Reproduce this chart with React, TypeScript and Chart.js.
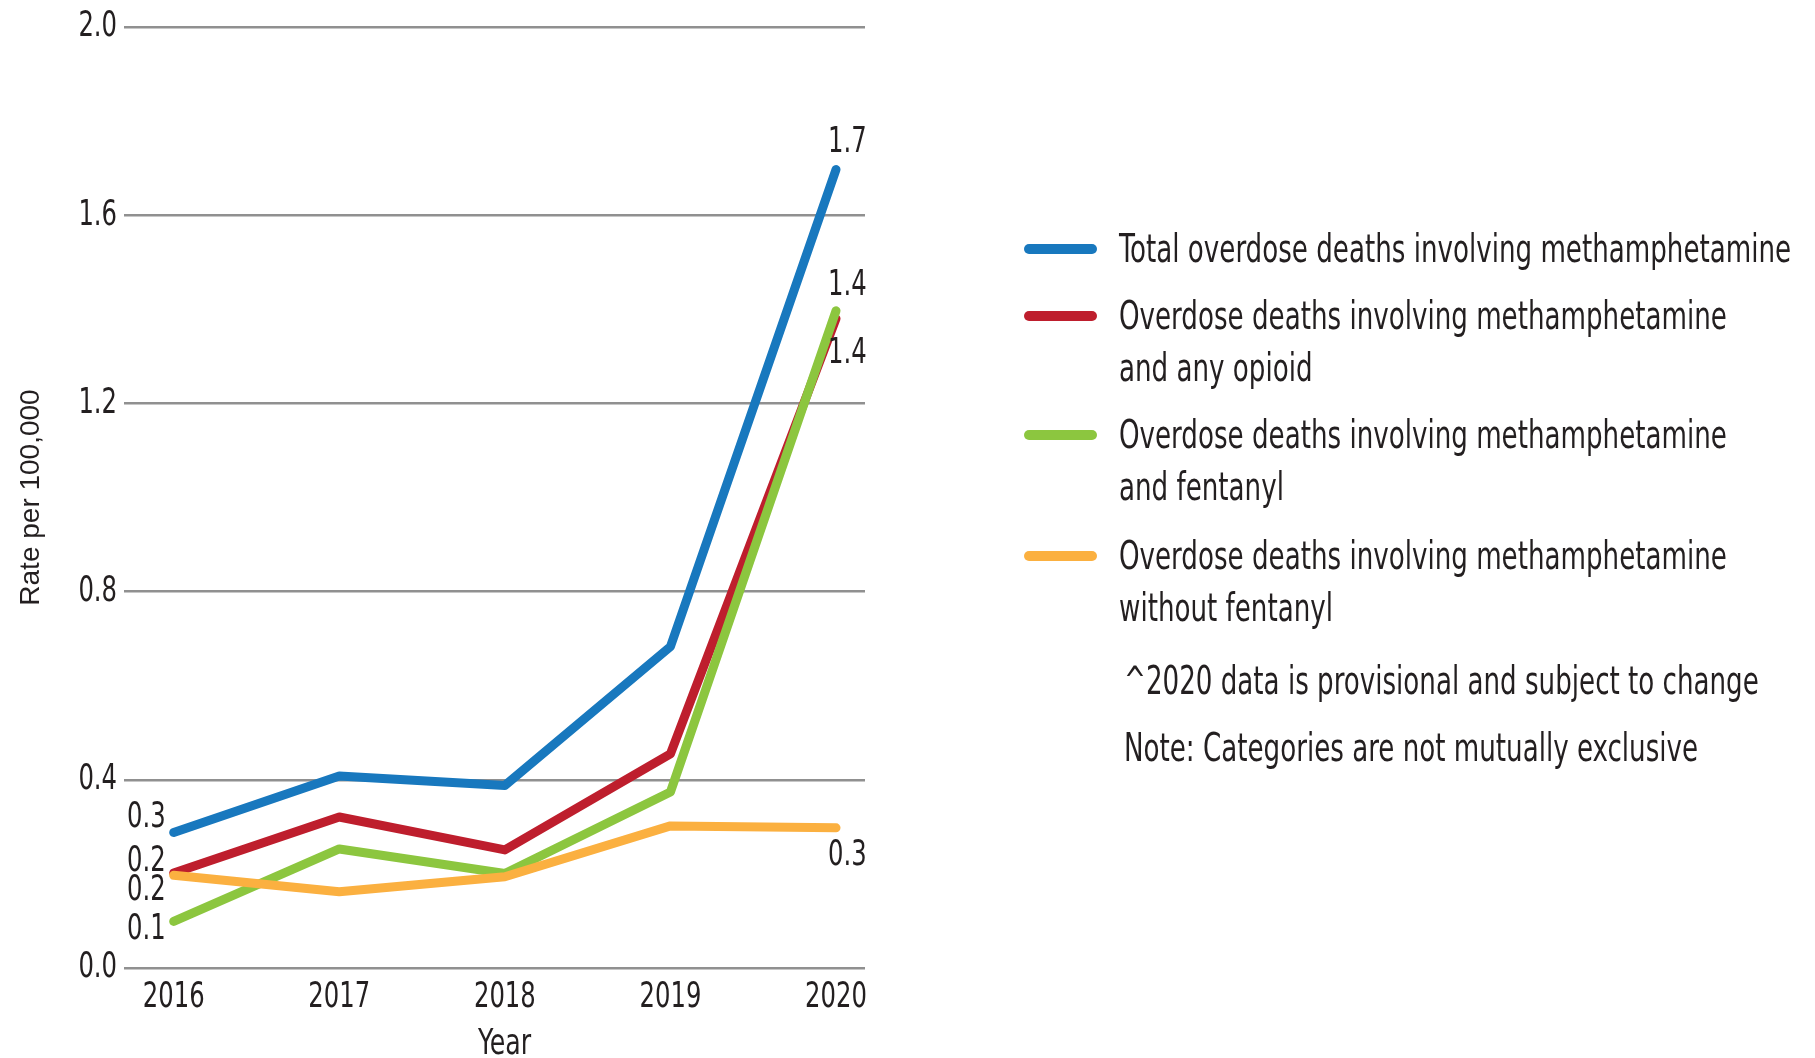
import React, { useEffect, useRef } from "react";
import { Chart, registerables } from "chart.js";

Chart.register(...registerables);

const years = [2016, 2017, 2018, 2019, 2020];
const yearLabels = ["2016", "2017", "2018", "2019", "2020"];

const seriesNames = [
  "Total overdose deaths involving methamphetamine",
  "Overdose deaths involving methamphetamine\nand any opioid",
  "Overdose deaths involving methamphetamine\nand fentanyl",
  "Overdose deaths involving methamphetamine\nwithout fentanyl",
];

const totalMeth = [0.288, 0.408, 0.388, 0.683, 1.697];
const methOpioid = [0.202, 0.321, 0.251, 0.455, 1.38];
const methFentanyl = [0.099, 0.253, 0.201, 0.374, 1.397];
const methNoFentanyl = [0.197, 0.162, 0.194, 0.302, 0.298];

const startLabels = ["0.3", "0.2", "0.1", "0.2"];
const endLabels = ["1.7", "1.4", "1.4", "0.3"];

const notes = [
  "^2020 data is provisional and subject to change",
  "Note: Categories are not mutually exclusive",
];

const yTitle = "Rate per 100,000";
const xTitle = "Year";

const colors = ["#1878BE", "#BE1E2D", "#8CC63F", "#FBB040"];
const FONT = "'DejaVu Sans Condensed', 'Liberation Sans Narrow', sans-serif";
const TEXT = "#231F20";
const SX = 0.75; // horizontal condensing of the narrow display face

// label offsets (style only)
const startOffsets = [
  { dx: -8, dy: -15 },
  { dx: -8, dy: -11 },
  { dx: -8, dy: 8 },
  { dx: -8, dy: 15 },
];
const endOffsets = [
  { dx: -8, dy: -27 },
  { dx: -8, dy: 35 },
  { dx: -8, dy: -25 },
  { dx: -8, dy: 28 },
];

function drawText(ctx: CanvasRenderingContext2D, text: string, x: number, y: number, align: CanvasTextAlign, size: number, sx: number) {
  ctx.save();
  ctx.font = `${size}px ${FONT}`;
  ctx.fillStyle = TEXT;
  ctx.textBaseline = "middle";
  ctx.textAlign = align;
  ctx.translate(x, y);
  ctx.scale(sx, 1);
  ctx.fillText(text, 0, 0);
  ctx.restore();
}

const textPlugin = {
  id: "condensedText",
  afterDraw(chart: any) {
    const ctx = chart.ctx;
    const area = chart.chartArea;
    const xs = chart.scales.x;
    const ys = chart.scales.y;
    xs.ticks.forEach((t: any) => {
      drawText(ctx, String(t.label), xs.getPixelForValue(t.value), area.bottom + 30, "center", 36, SX);
    });
    ys.ticks.forEach((t: any) => {
      drawText(ctx, String(t.label), area.left - 7, ys.getPixelForValue(t.value), "right", 36, SX);
    });
    drawText(ctx, xTitle, (area.left + area.right) / 2 + 10, area.bottom + 77, "center", 36, 0.78);
    chart.data.datasets.forEach((_ds: any, i: number) => {
      const meta = chart.getDatasetMeta(i);
      const first = meta.data[0];
      const last = meta.data[meta.data.length - 1];
      drawText(ctx, startLabels[i], first.x + startOffsets[i].dx, first.y + startOffsets[i].dy, "right", 36, SX);
      drawText(ctx, endLabels[i], last.x + endOffsets[i].dx, last.y + endOffsets[i].dy, "left", 36, SX);
    });
  },
};

export default function App() {
  const ref = useRef<HTMLCanvasElement>(null);

  useEffect(() => {
    if (!ref.current) return;
    const seriesValues = [totalMeth, methOpioid, methFentanyl, methNoFentanyl];
    const chart = new Chart(ref.current, {
      type: "line",
      data: {
        datasets: seriesValues.map((vals, i) => ({
          label: seriesNames[i],
          data: years.map((yr, j) => ({ x: yr, y: vals[j] })),
          borderColor: colors[i],
          backgroundColor: colors[i],
          borderWidth: 9,
          pointRadius: 0,
          borderCapStyle: "round",
          borderJoinStyle: "round",
          tension: 0,
          order: 4 - i,
        })),
      },
      options: {
        responsive: false,
        animation: false,
        layout: { padding: { left: 0, top: 27, right: 950, bottom: 0 } },
        plugins: {
          legend: { display: false },
          tooltip: { enabled: false },
        },
        scales: {
          x: {
            type: "linear",
            min: 2015.7,
            max: 2020.175,
            afterBuildTicks: (scale: any) => {
              scale.ticks = years.map((v) => ({ value: v }));
            },
            afterFit: (scale: any) => {
              scale.height = 90;
            },
            grid: { display: false, drawTicks: false },
            border: { display: false },
            ticks: {
              autoSkip: false,
              maxRotation: 0,
              padding: 10,
              color: "rgba(0,0,0,0)",
              font: { family: FONT, size: 32 },
              callback: (v: any) => yearLabels[years.indexOf(v)] ?? "",
            },
          },
          y: {
            min: 0,
            max: 2.0,
            afterFit: (scale: any) => {
              scale.width = 124;
            },
            grid: { color: "#909090", lineWidth: 2.4, drawTicks: false },
            border: { display: false },
            ticks: {
              stepSize: 0.4,
              padding: 7,
              color: "rgba(0,0,0,0)",
              font: { family: FONT, size: 32 },
              callback: (v: any) => Number(v).toFixed(1),
            },
            title: {
              display: true,
              text: yTitle,
              color: TEXT,
              font: { family: "'Liberation Sans', Arial, sans-serif", size: 28, lineHeight: 1.2 },
              padding: { top: 14, bottom: 0 },
            },
          },
        },
      },
      plugins: [textPlugin],
    } as any);
    return () => chart.destroy();
  }, []);

  const itemTops = [223, 290, 409, 530];
  const noteTops = [655, 722];
  const textStyle: React.CSSProperties = {
    position: "absolute",
    whiteSpace: "pre",
    fontFamily: FONT,
    fontSize: 39,
    lineHeight: "52px",
    color: TEXT,
    transform: "scaleX(0.745)",
    transformOrigin: "0 0",
  };

  return (
    <div style={{ position: "fixed", left: 0, top: 0, width: 1815, height: 1058, background: "#fff" }}>
      <canvas ref={ref} width={1815} height={1058} style={{ position: "absolute", left: 0, top: 0 }} />
      {seriesNames.map((name, i) => (
        <div key={i} style={{ position: "absolute", left: 1024, top: itemTops[i] }}>
          <div
            style={{
              position: "absolute",
              left: 0,
              top: 21,
              width: 73,
              height: 10,
              borderRadius: 5,
              background: colors[i],
            }}
          />
          <div style={{ ...textStyle, left: 95, top: 0 }}>{name}</div>
        </div>
      ))}
      {notes.map((n, i) => (
        <div key={n} style={{ ...textStyle, left: 1124, top: noteTops[i] }}>
          {n}
        </div>
      ))}
    </div>
  );
}
